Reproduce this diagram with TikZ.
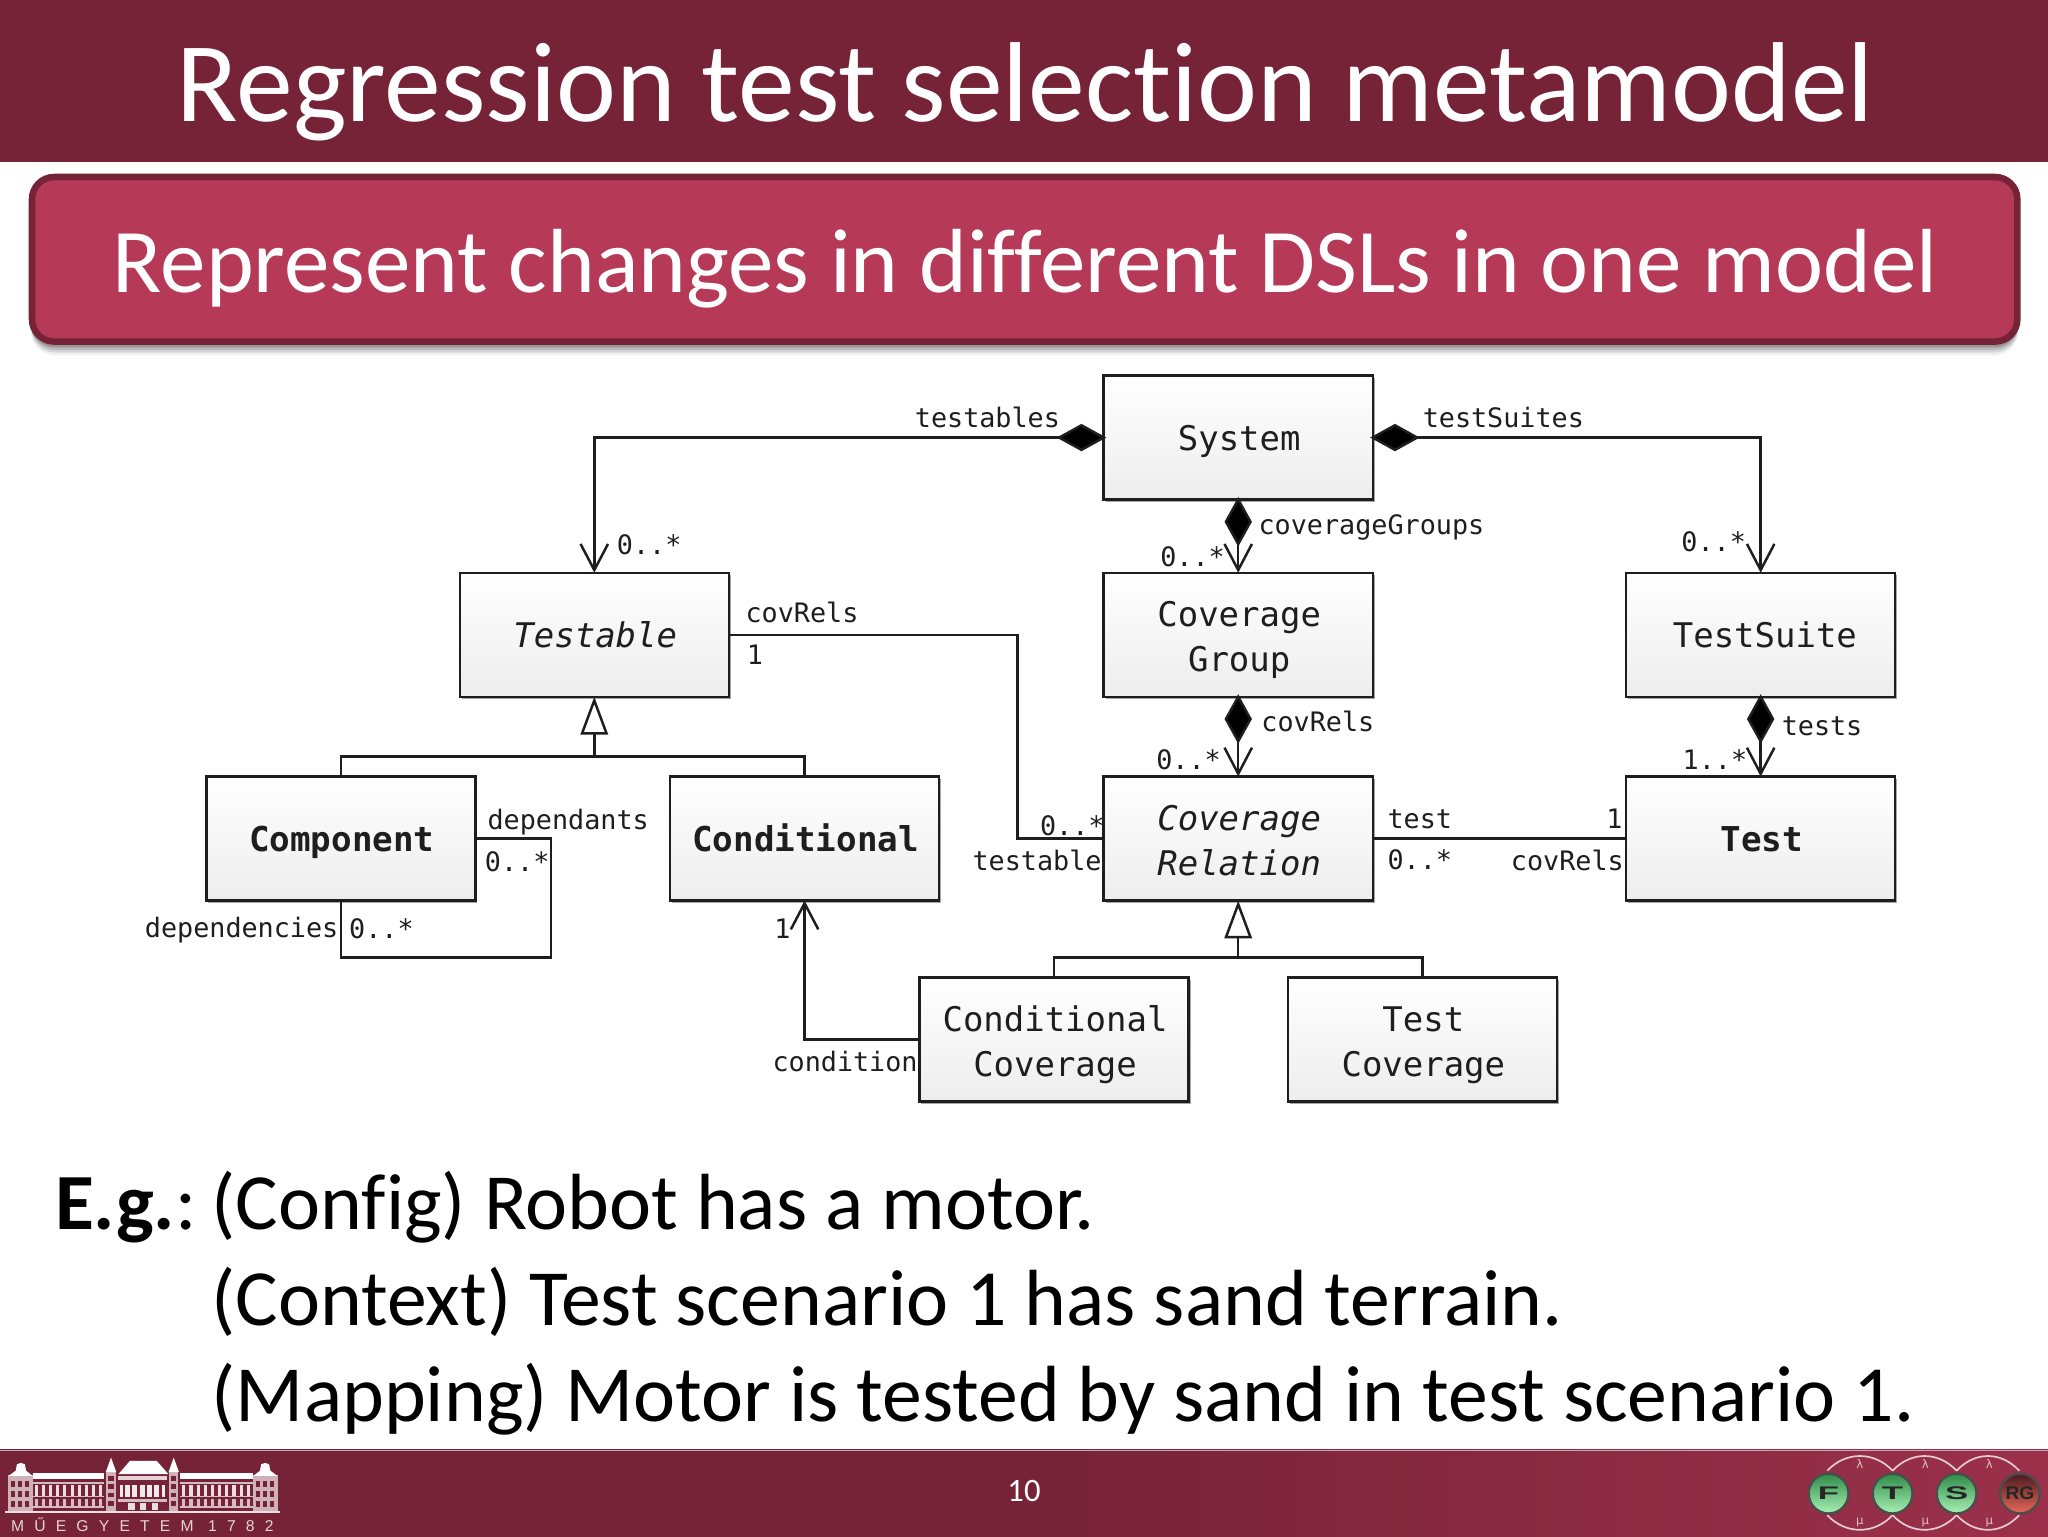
\documentclass[tikz,border=0pt]{standalone}
\usepackage{fontspec}
\setmainfont[RawFeature={-liga;-clig;-dlig}]{Carlito}
\newfontfamily\monof{DejaVu Sans Mono}
\newfontfamily\spacedf[LetterSpace=65]{Liberation Sans}
\newfontfamily\logof{Liberation Sans}
\usetikzlibrary{arrows.meta,shadows,calc}
\definecolor{wine}{HTML}{762337}
\definecolor{wineR}{HTML}{9C304B}
\definecolor{rosefill}{HTML}{B63A57}
\definecolor{ink}{HTML}{1E1E1E}
\definecolor{ballT}{HTML}{2F8A49}
\definecolor{ballB}{HTML}{A8F2B4}
\definecolor{redT}{HTML}{4A1A1E}
\definecolor{redB}{HTML}{E66A5A}
\newcommand\oneL[1]{\raisebox{-4pt}[18pt][6pt]{\hspace*{1.5pt}#1}}
\newcommand\twoL[2]{\raisebox{-5pt}[18pt][6pt]{\hspace*{1.5pt}#1}\\\raisebox{-5pt}[18pt][6pt]{\hspace*{1.5pt}#2}}
\newcommand\logoL[2]{\scalebox{#1}[1]{#2}}
\tikzset{
  x=1pt,y=-1pt,
  umlbox/.style={draw=ink,line width=1.9pt,minimum width=206pt,minimum height=95pt,inner sep=0pt,outer sep=0pt,
    top color=white,bottom color=black!7,align=center,text=ink,
    font=\monof\fontsize{26}{34}\selectfont,
    drop shadow={shadow xshift=1.5pt,shadow yshift=-2pt,opacity=.35,fill=black}},
  boldbox/.style={font=\monof\bfseries\fontsize{26.2}{34}\selectfont},
  italbox/.style={font=\monof\itshape\fontsize{26}{34}\selectfont},
  lab/.style={anchor=mid,yshift=-5pt,text=ink,inner sep=0pt,font=\monof\fontsize{20.5}{24}\selectfont},
  conn/.style={draw=ink,line width=1.9pt},
  assoc/.style={conn,shorten <=-2pt,{Diamond[length=38pt,width=21pt,fill=black]}-{Straight Barb[length=20pt,width=21pt,line width=1.9pt]}},
  assocopen/.style={conn,-{Straight Barb[length=20pt,width=21pt,line width=1.9pt]}},
  gen/.style={conn,-{Triangle[open,length=29pt,width=21pt,fill=white,line width=1.9pt]}},
  bodytext/.style={anchor=base west,inner sep=0pt,text=black,font=\fontsize{61}{64}\selectfont},
  wave/.style={draw=white!75!wineR,line width=1.3pt},
  tinysign/.style={anchor=mid,inner sep=0pt,text=white!70!wineR,font=\logof\fontsize{9}{9}\selectfont},
  ball/.style={circle,minimum size=30.5pt,inner sep=0pt,draw=black!70,line width=1.8pt,top color=ballT,bottom color=ballB,
    font=\logof\bfseries\fontsize{14}{14}\selectfont,text=black!85},
}
\begin{document}
\begin{tikzpicture}
\useasboundingbox (0,0) rectangle (1568,1176);
\fill[white] (0,0) rectangle (1568,1176);
% header
\fill[wine] (0,0) rectangle (1568,124);
\node[anchor=base,text=white,inner sep=0pt,font=\fontsize{87}{87}\selectfont] (title) at (785,93) {Regression test selection metamodel};
% subtitle box
\foreach \o/\a in {8/.06,6/.10,4/.14,2/.18}
  \fill[black,opacity=\a,rounded corners=18pt] (24,137) rectangle (1545,264+\o);
\draw[wine,fill=rosefill,line width=5pt,rounded corners=17pt] (24.5,135.5) rectangle (1544.5,261.5);
\node[anchor=base,text=white,inner sep=0pt,font=\fontsize{69.7}{70}\selectfont] (subtitle) at (785,224) {Represent changes in different DSLs in one model};
% UML boxes
\node[umlbox] (sys) at (948,335) {\oneL{System}};
\node[umlbox,italbox] (testable) at (455,486) {\oneL{Testable}};
\node[umlbox] (cg) at (948,486) {\twoL{Coverage}{Group}};
\node[umlbox] (ts) at (1348,486) {\oneL{\hspace*{5pt}TestSuite}};
\node[umlbox,boldbox] (comp) at (261,642) {\oneL{Component}};
\node[umlbox,boldbox] (cond) at (616,642) {\oneL{Conditional}};
\node[umlbox,italbox] (cr) at (948,642) {\twoL{Coverage}{Relation}};
\node[umlbox,boldbox] (test) at (1348,642) {\oneL{Test}};
\node[umlbox] (cc) at (807,796) {\twoL{Conditional}{Coverage}};
\node[umlbox] (tc) at (1089,796) {\twoL{Test}{Coverage}};
% connectors
\coordinate (bendA) at (779,564);
\coordinate (loopC) at (422,733);
\coordinate (barA) at (455,579);
\coordinate (barB) at (948,733);
\draw[assoc] (sys.west) -| (testable.north);
\draw[assoc] (sys.east) -| (ts.north);
\draw[assoc] (sys.south) -- (cg.north);
\draw[assoc] (cg.south) -- (cr.north);
\draw[assoc] (ts.south) -- (test.north);
\draw[conn] (testable.east) -| (bendA) |- (cr.west);
\draw[conn] (cr.east) -- (test.west);
\draw[conn] (comp.east) -| (loopC) -| (comp.south);
\draw[assocopen] (cc.west) -| (cond.south);
\draw[conn] (comp.north) |- (barA) -| (cond.north);
\draw[gen] (barA) -- (testable.south);
\draw[conn] (cc.north) |- (barB) -| (tc.north);
\draw[gen] (barB) -- (cr.south);
% labels
\node[lab] (l1) at (756,320) {testables};
\node[lab] (l2) at (1151,320) {testSuites};
\node[lab] (l3) at (497,417) {0..*};
\node[lab] (l4) at (1050,402) {coverageGroups};
\node[lab] (l5) at (913,426) {0..*};
\node[lab] (l6) at (1312,415) {0..*};
\node[lab] (l7) at (614,469) {covRels};
\node[lab] (l8) at (578,501) {1};
\node[lab] (l9) at (1009,553) {covRels};
\node[lab] (l10) at (1395,556) {tests};
\node[lab] (l11) at (910,582) {0..*};
\node[lab] (l12) at (1313,582) {1..*};
\node[lab] (l13) at (435,628) {dependants};
\node[lab] (l14) at (396,660) {0..*};
\node[lab] (l15) at (185,710) {dependencies};
\node[lab] (l16) at (292,711) {0..*};
\node[lab] (l17) at (821,632) {0..*};
\node[lab] (l18) at (794,659) {testable};
\node[lab] (l19) at (1087,627) {test};
\node[lab] (l20) at (1087,658) {0..*};
\node[lab] (l21) at (1236,627) {1};
\node[lab] (l22) at (1200,659) {covRels};
\node[lab] (l23) at (599,711) {1};
\node[lab] (l24) at (647,813) {condition};
% body text
\node[bodytext] (b1) at (42,941) {\textbf{E.g.}:};
\node[bodytext] (b1b) at (162,941) {(Config) Robot has a motor.};
\node[bodytext] (b2) at (162,1015) {(Context) Test scenario 1 has sand terrain.};
\node[bodytext] (b3) at (162,1088) {(Mapping) Motor is tested by sand in test scenario 1.};
% footer
\shade[left color=wine,right color=wineR,middle color=wine] (0,1110) rectangle (1568,1176);
\draw[white!60!wine,line width=1pt] (0,1110.5) -- (1568,1110.5);
\node[anchor=mid,yshift=-6pt,text=white,inner sep=0pt,font=\fontsize{25}{25}\selectfont] (pageno) at (784,1141) {10};
% building logo
\begin{scope}
  % wings and towers: window grid
  \foreach \xa/\xb in {25/80,138/194}{
    \fill[white] (\xa,1127.5) rectangle (\xb,1132);
    \fill[white!70!wine] (\xa,1135) rectangle (\xb,1136);
    \fill[white!70!wine] (\xa,1145.5) rectangle (\xb,1146.5);
    \fill[white!70!wine] (\xa,1153) rectangle (\xb,1154.5);
    \foreach \i in {0,...,9}{
      \fill[white!85!wine] (\xa+1.5+5.5*\i,1137) rectangle +(2.4,8);
      \fill[white!70!wine] (\xa+1.5+5.5*\i,1148) rectangle +(2.4,5);
    }
  }
  \foreach \xa/\ap in {6.5/16,194/203}{
    \fill[white!65!wine] (\xa,1129.5) rectangle (\xa+18.5,1157);
    \foreach \i in {0,1,2}\foreach \j in {0,1,2}
      \fill[wine] (\xa+2+5.5*\i,1134+7.5*\j) rectangle +(3,4.5);
    \fill[white] (\xa,1130) -- (\ap-4,1126) -- (\ap-3,1121) -- (\ap,1120) -- (\ap+3,1121) -- (\ap+4,1126) -- (\xa+18.5,1130) -- cycle;
  }
  \foreach \xa/\ap in {81.5/85,129.5/133}{
    \fill[white!65!wine] (\xa,1127) rectangle (\xa+7,1157);
    \foreach \j in {0,1,2,3} \fill[wine] (\xa+1.5,1130+6.5*\j) rectangle +(4,3.5);
    \fill[white] (\xa-.5,1127) -- (\ap,1116) -- (\xa+7.5,1127) -- cycle;
  }
  % central block
  \fill[white] (90.6,1128.7) -- (99.5,1118.5) -- (120,1118.5) -- (129,1128.7) -- cycle;
  \fill[white!80!wine] (90,1130) rectangle (128,1133);
  \fill[white!90!wine] (92,1137) rectangle (126,1146.5);
  \foreach \i in {0,...,5} \fill[wine] (94+5.6*\i,1137) rectangle +(1.8,9.5);
  \fill[white!70!wine] (90,1148) rectangle (128,1150);
  \foreach \i in {0,1,2} \fill[white!85!wine] (98+9*\i,1151) rectangle +(5,5);
  % base line
  \fill[white!85!wine] (4,1156.5) rectangle (214,1158);
\end{scope}
\node[anchor=mid,yshift=-2pt,text=white!80!wine,inner sep=0pt,font=\spacedf\fontsize{12}{12}\selectfont] (uni) at (109,1168) {MŰEGYETEM 1782};
% FTSRG logo
\foreach \a/\b in {1399/1449,1449/1498,1498/1546}{
  \draw[wave] (\a,1126) .. controls (\a+14,1111) and (\b-14,1111) .. (\b,1126);
  \draw[wave] (\a,1160) .. controls (\a+14,1175) and (\b-14,1175) .. (\b,1160);
}
\node[tinysign] (la1) at (1424,1122) {\fontspec{DejaVu Sans}λ};
\node[tinysign] (la2) at (1474,1122) {\fontspec{DejaVu Sans}λ};
\node[tinysign] (la3) at (1523,1122) {\fontspec{DejaVu Sans}λ};
\node[tinysign] (mu1) at (1424,1165) {\fontspec{DejaVu Sans}μ};
\node[tinysign] (mu2) at (1474,1165) {\fontspec{DejaVu Sans}μ};
\node[tinysign] (mu3) at (1523,1165) {\fontspec{DejaVu Sans}μ};
\node[ball] (f) at (1400,1143.5) {\logoL{1.9}{F}};
\node[ball] (t) at (1449,1143.5) {\logoL{1.9}{T}};
\node[ball] (s) at (1498,1143.5) {\logoL{1.9}{S}};
\node[ball,top color=redT,bottom color=redB] (rg) at (1546.5,1143.5) {\logoL{1.05}{RG}};
\end{tikzpicture}
\end{document}
